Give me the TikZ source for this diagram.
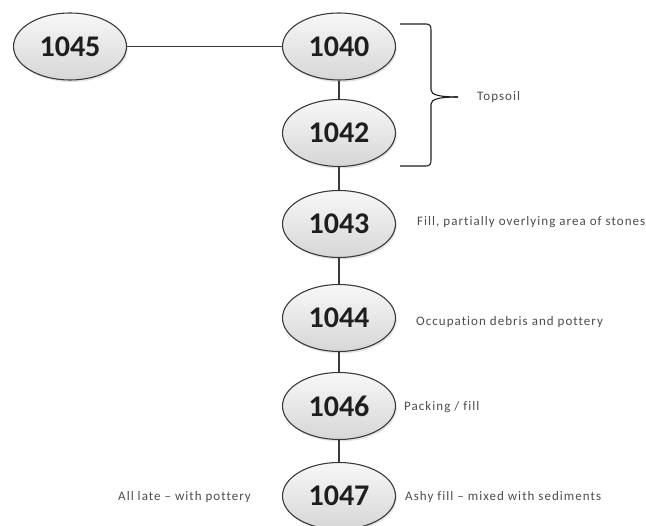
\documentclass[tikz,border=0pt]{standalone}
\usepackage{fontspec}
\setmainfont{Carlito}
\newfontfamily\notefont[LetterSpace=8,Ligatures=NoCommon]{Carlito}
\usetikzlibrary{shapes.geometric,shadows}
\definecolor{edge}{HTML}{3A3A3A}
\definecolor{ink}{HTML}{1E1E1E}
\tikzset{
  unit/.style={ellipse, draw=edge, line width=1.1pt, minimum width=113pt,
    minimum height=67pt, inner sep=0pt, top color=gray!6, bottom color=gray!32,
    drop shadow={opacity=0.22, shadow xshift=1.2pt, shadow yshift=-2pt},
    font=\fontsize{30}{32}\selectfont\bfseries, text=ink},
  link/.style={draw=edge, line width=1.1pt},
  note/.style={anchor=west, inner sep=0pt, font=\notefont\fontsize{13}{15}\selectfont, text=ink!80},
  bracket/.style={draw=ink, line width=1.1pt}
}
\begin{document}
\begin{tikzpicture}[x=1pt,y=-1pt]
  \useasboundingbox (0,0) rectangle (646,526);
  % stratigraphic units
  \node[unit] (n1045) at (70,46.5) {1045};
  \node[unit] (n1040) at (339,46.5) {1040};
  \node[unit] (n1042) at (339,133) {1042};
  \node[unit] (n1043) at (339,224) {1043};
  \node[unit] (n1044) at (339,318) {1044};
  \node[unit] (n1046) at (339,406) {1046};
  \node[unit] (n1047) at (339,496) {1047};
  % relationships
  \path[link] (n1045) -- (n1040);
  \path[link] (n1040) -- (n1042);
  \path[link] (n1042) -- (n1043);
  \path[link] (n1043) -- (n1044);
  \path[link] (n1044) -- (n1046);
  \path[link] (n1046) -- (n1047);
  % brace grouping the topsoil units
  \draw[bracket] (400,24) -- (426,24) .. controls (430,24) and (431,26) .. (431,30)
    -- (431,90) .. controls (431,95) and (440,97) .. (458,97);
  \draw[bracket] (400,166) -- (426,166) .. controls (430,166) and (431,164) .. (431,160)
    -- (431,104) .. controls (431,99) and (440,97) .. (458,97);
  % descriptions
  \node[note] (tTop) at (477,97) {Topsoil};
  \node[note] (t1043) at (417,222) {Fill, partially overlying area of stones};
  \node[note] (t1044) at (416,322) {Occupation debris and pottery};
  \node[note] (t1046) at (404,407) {Packing / fill};
  \node[note] (t1047) at (405,497) {Ashy fill – mixed with sediments};
  \node[note] (tLate) at (118,497) {All late – with pottery};
\end{tikzpicture}
\end{document}
